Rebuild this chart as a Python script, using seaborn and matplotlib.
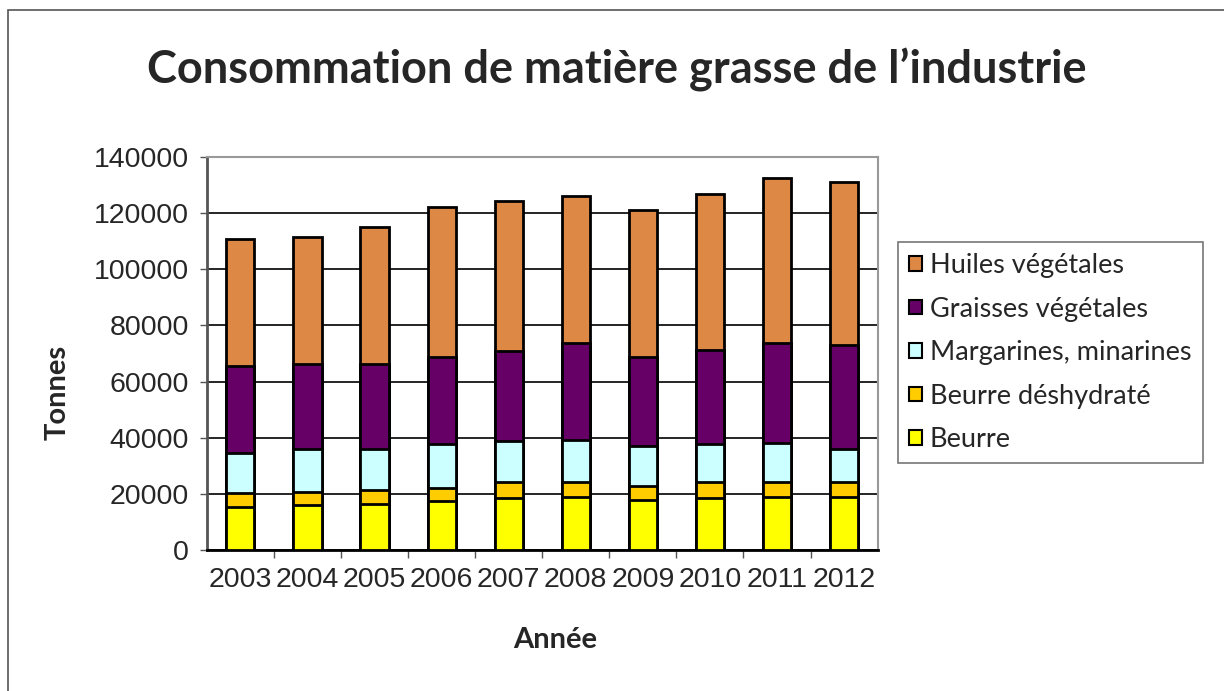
import numpy as np
import pandas as pd
import matplotlib
matplotlib.use("Agg")
import matplotlib.pyplot as plt
from matplotlib.patches import Rectangle, Patch
import seaborn as sns

sns.set_style("white")

years = ["2003", "2004", "2005", "2006", "2007", "2008", "2009", "2010", "2011", "2012"]
# tonnes per category, bottom to top of each stack
beurre = [15500, 16000, 16500, 17500, 18700, 18900, 17700, 18700, 18900, 18900]
beurre_deshydrate = [4800, 4800, 5000, 4700, 5400, 5500, 5000, 5400, 5500, 5500]
margarines = [14300, 15000, 14300, 15700, 14800, 14700, 14500, 13800, 13800, 11400]
graisses = [31100, 30400, 30400, 30700, 31800, 34700, 31600, 33500, 35600, 37100]
huiles = [45200, 45300, 49000, 53500, 53500, 52100, 52300, 55400, 58700, 58000]

series = ["Beurre", "Beurre déshydraté", "Margarines, minarines",
          "Graisses végétales", "Huiles végétales"]
colors = ["#ffff00", "#ffcc00", "#ccffff", "#660066", "#dd8844"]

df = pd.DataFrame({"Année": years, "Beurre": beurre,
                   "Beurre déshydraté": beurre_deshydrate,
                   "Margarines, minarines": margarines,
                   "Graisses végétales": graisses,
                   "Huiles végétales": huiles})
cum = df[series].cumsum(axis=1)
cum["Année"] = df["Année"]

fig = plt.figure(figsize=(12.24, 6.91), dpi=100)
ax = fig.add_axes([0.169, 0.204, 0.548, 0.569])

# tallest stack first, smaller ones drawn over it
for name, col in zip(series[::-1], colors[::-1]):
    sns.barplot(data=cum, x="Année", y=name, color=col, width=0.42,
                edgecolor="black", linewidth=2, saturation=1, ax=ax, zorder=3)

ax.set_ylim(0, 140000)
ax.set_xlim(-0.5, 9.5)
ax.set_yticks(np.arange(0, 140001, 20000))
ax.yaxis.grid(True, color="black", linewidth=1.2, zorder=0)
ax.set_axisbelow(True)
ax.tick_params(axis="y", labelsize=20.5, length=5, width=1, direction="out",
               left=True, color="#555555", pad=8)
ax.set_xticks(range(len(years)))
ax.set_xticks(np.arange(0.5, 9.5, 1), minor=True)
ax.tick_params(axis="x", which="major", length=0, labelsize=20.5, pad=12)
ax.tick_params(axis="x", which="minor", length=6, width=1, direction="out",
               bottom=True, color="#555555")
for lab in ax.get_xticklabels() + ax.get_yticklabels():
    lab.set_family("Liberation Sans")

for side in ["top", "right"]:
    ax.spines[side].set_color("#999999")
    ax.spines[side].set_linewidth(1.5)
ax.spines["left"].set_color("#555555")
ax.spines["left"].set_linewidth(2)
ax.spines["bottom"].set_color("black")
ax.spines["bottom"].set_linewidth(2)

ax.set_xlabel("Année", fontsize=21, fontweight="bold", family="Lato", va="center")
ax.set_ylabel("Tonnes", fontsize=21, fontweight="bold", family="Lato", va="center")
ax.xaxis.set_label_coords(0.519, -0.229)
ax.yaxis.set_label_coords(-0.222, 0.40)

fig.text(0.504, 0.899, "Consommation de matière grasse de l’industrie",
         ha="center", va="center", fontsize=32.5, fontweight="bold", family="Lato")

handles = [Patch(facecolor=c, edgecolor="black", linewidth=1.5) for c in colors[::-1]]
leg = fig.legend(handles, series[::-1], loc="upper left",
                 bbox_to_anchor=(898 / 1224, 1 - 242 / 691),
                 prop={"family": "Lato", "size": 19.5}, frameon=True,
                 fancybox=False, handlelength=0.45, handleheight=0.45,
                 handletextpad=0.3, labelspacing=0.68, borderpad=0.42,
                 borderaxespad=0)
leg.get_frame().set_edgecolor("#555555")
leg.get_frame().set_linewidth(1.2)

fig.patches.append(Rectangle((8 / 1224, -0.01), 1.1, 1 - 10 / 691 + 0.01,
                             transform=fig.transFigure, fill=False,
                             edgecolor="#555555", linewidth=1.2))

fig.savefig("out.png", dpi=100)
